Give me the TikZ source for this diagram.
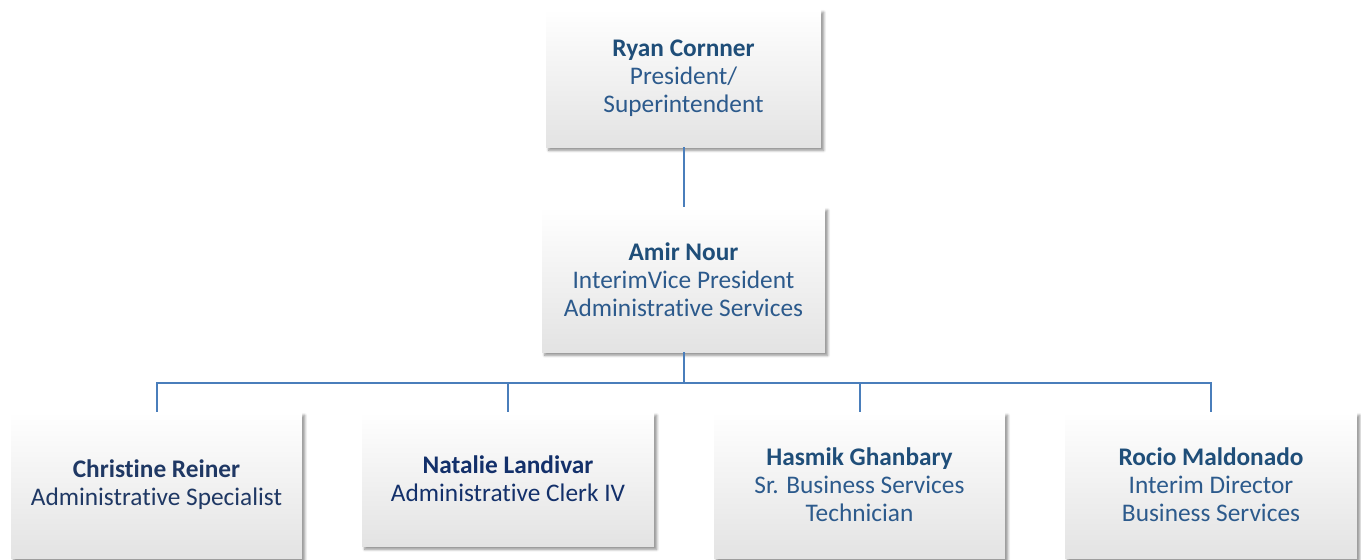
\documentclass[tikz,border=0pt]{standalone}
\usepackage{fontspec}
\setmainfont{Carlito}[Ligatures=NoCommon]
\usetikzlibrary{shadows.blur}
\definecolor{nameblue}{HTML}{1F4E79}
\definecolor{titleblue}{HTML}{2C5A8C}
\definecolor{navy}{HTML}{1F3864}
\definecolor{navyb}{HTML}{13306A}
\definecolor{linkblue}{HTML}{4A7EBB}
\tikzset{
  orgbox/.style={draw=none, top color=white, middle color=white, bottom color=black!11,
    blur shadow={shadow xshift=2pt, shadow yshift=-2.5pt, shadow blur steps=6, shadow opacity=45},
    align=center, inner sep=0pt, font=\fontsize{19}{21}\selectfont, text=titleblue},
  conn/.style={draw=linkblue, line width=1.5pt}
}
\begin{document}
\begin{tikzpicture}[x=0.75pt,y=-0.75pt]
\useasboundingbox (0,0) rectangle (1361,560);
\clip (0,0) rectangle (1361,560);
\node[orgbox, minimum width=206.25pt, minimum height=103.5pt] (top) at (683.5,78)
  {{\bfseries\color{nameblue}Ryan Cornner}\\President/\\Superintendent};
\node[orgbox, minimum width=212.25pt, minimum height=108.75pt] (mid) at (683.5,279.5)
  {{\bfseries\color{nameblue}Amir Nour}\\InterimVice President\\Administrative Services};
\node[orgbox, text=navy, minimum width=218.25pt, minimum height=109.5pt] (b1) at (156.5,485)
  {{\bfseries Christine Reiner}\\Administrative Specialist};
\node[orgbox, text=navyb, minimum width=219pt, minimum height=100.5pt] (b2) at (508,479)
  {{\bfseries Natalie Landivar}\\Administrative Clerk IV};
\node[orgbox, minimum width=218.25pt, minimum height=109.5pt] (b3) at (859.5,485)
  {{\bfseries\color{nameblue}Hasmik Ghanbary}\\Sr. Business Services\\Technician};
\node[orgbox, minimum width=219pt, minimum height=109.5pt] (b4) at (1211,485)
  {{\bfseries\color{nameblue}Rocio Maldonado}\\Interim Director\\Business Services};
\coordinate (bus) at (683.5,382.5);
\draw[conn] (top.south) -- (mid.north);
\draw[conn] (mid.south) -- (bus);
\draw[conn] (b1.north) |- (bus);
\draw[conn] (b2.north) |- (bus);
\draw[conn] (b3.north) |- (bus);
\draw[conn] (b4.north) |- (bus);
\end{tikzpicture}
\end{document}
